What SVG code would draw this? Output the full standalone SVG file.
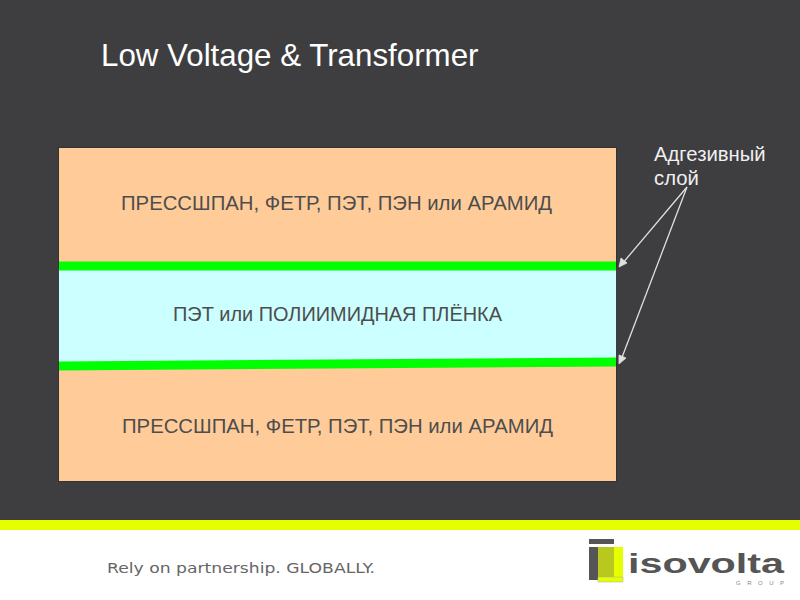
<svg xmlns="http://www.w3.org/2000/svg" width="800" height="600" viewBox="0 0 800 600">
<style>
text{font-family:"Liberation Sans",Arial,sans-serif}
.l{font-size:20px;fill:#4d4d4d;text-anchor:middle}
.c{fill:none;stroke:#e0e0e0;stroke-width:1.3}
.h{fill:#e0e0e0;stroke:#e0e0e0;stroke-width:.8}
.tag{font-family:"DejaVu Sans",sans-serif;font-size:14px;fill:#666}
</style>
<rect width="800" height="600" fill="#3e3e40"/>
<rect y="520" width="800" height="80" fill="#fff"/>
<rect y="520" width="800" height="10" fill="#e6ff00"/>
<text x="101" y="66" font-size="31.300" fill="#fff">Low Voltage &amp; Transformer</text>
<g id="layer-top"><rect x="58.500" y="147.500" width="558" height="120" fill="#ffcc99" stroke="#333" stroke-width="1"/><text class="l" x="336.500" y="210" textLength="431" lengthAdjust="spacingAndGlyphs">ПРЕССШПАН, ФЕТР, ПЭТ, ПЭН или АРАМИД</text></g>
<g id="layer-bottom"><rect x="58.500" y="362.500" width="558" height="119" fill="#ffcc99" stroke="#333" stroke-width="1"/><text class="l" x="337.500" y="433" textLength="431" lengthAdjust="spacingAndGlyphs">ПРЕССШПАН, ФЕТР, ПЭТ, ПЭН или АРАМИД</text></g>
<g id="layer-film"><rect x="59" y="268" width="557" height="96" fill="#ccffff"/><text class="l" x="337.500" y="321" textLength="329" lengthAdjust="spacingAndGlyphs">ПЭТ или ПОЛИИМИДНАЯ ПЛЁНКА</text></g>
<g id="adhesive-top"><rect x="59" y="261.500" width="557" height="9" fill="#00ff00"/></g>
<g id="adhesive-bottom"><polygon points="59,361.500 616,357.500 616,366.500 59,370.500" fill="#00ff00"/></g>
<g id="callout"><text x="654" y="161" font-size="20.300" fill="#f0f0f0">Адгезивный</text><text x="654" y="185" font-size="20.300" fill="#f0f0f0">слой</text></g>
<g id="connectors">
<line class="c" x1="687" y1="187" x2="622" y2="264"/>
<polygon class="h" points="619,267 621,258 627,263"/>
<line class="c" x1="687" y1="187" x2="621" y2="360"/>
<polygon class="h" points="619,364 619,355 626,358"/>
</g>
<g id="tagline"><text class="tag" x="107" y="573" textLength="268" lengthAdjust="spacingAndGlyphs">Rely on partnership. GLOBALLY.</text></g>
<g id="logo">
<rect x="589" y="539" width="25" height="5" fill="#555"/>
<rect x="589" y="547" width="9" height="33" fill="#555"/>
<rect x="598" y="547" width="17" height="33" fill="#b8c81e"/>
<rect x="614" y="547" width="9" height="33" fill="#e6ff00"/>
<rect x="598" y="577" width="25" height="5" fill="#e6ff00" stroke="#aaa" stroke-width=".5"/>
<text x="628" y="573" font-size="28" font-weight="bold" fill="#555" textLength="156" lengthAdjust="spacingAndGlyphs">isovolta</text>
<text x="736" y="585" font-size="6" fill="#888" textLength="48">GROUP</text>
</g>
</svg>
